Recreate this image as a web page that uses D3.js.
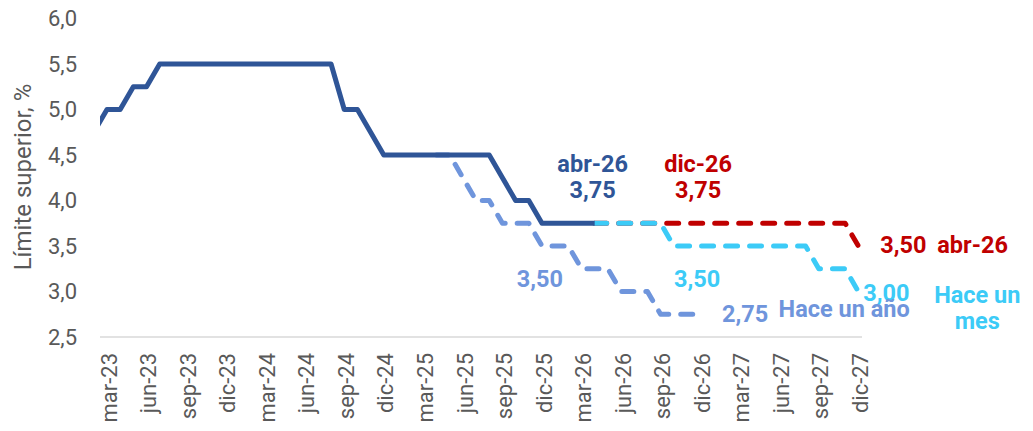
<!DOCTYPE html>
<html>
<head>
<meta charset="utf-8">
<script src="https://cdn.jsdelivr.net/npm/d3@7"></script>
<style>
  body { margin: 0; background: #fff; }
  text { font-family: Roboto, "Noto Sans", sans-serif; }
</style>
</head>
<body>
<div id="chart"></div>
<script>
const WIDTH = 1033;
const HEIGHT = 431;

// month categories, ene-23 .. dic-27
const monthNames = ["ene","feb","mar","abr","may","jun","jul","ago","sep","oct","nov","dic"];
const years = ["23","24","25","26","27"];
const months = years.flatMap(yr => monthNames.map(m => `${m}-${yr}`));

// tick labels shown on the x axis
const xTickLabels = ["mar-23","jun-23","sep-23","dic-23","mar-24","jun-24","sep-24","dic-24",
  "mar-25","jun-25","sep-25","dic-25","mar-26","jun-26","sep-26","dic-26",
  "mar-27","jun-27","sep-27","dic-27"];
const yTicks = [2.5, 3.0, 3.5, 4.0, 4.5, 5.0, 5.5, 6.0];

// actual upper limit, feb-23 .. abr-26
const actualStart = "feb-23";
const actualValues = [4.75, 5.0, 5.0, 5.25, 5.25, 5.5, 5.5, 5.5, 5.5, 5.5, 5.5,
  5.5, 5.5, 5.5, 5.5, 5.5, 5.5, 5.5, 5.5, 5.0, 5.0, 4.75, 4.5,
  4.5, 4.5, 4.5, 4.5, 4.5, 4.5, 4.5, 4.5, 4.25, 4.0, 4.0, 3.75,
  3.75, 3.75, 3.75, 3.75];

// "Hace un año" path, abr-25 .. dic-26
const yearAgoStart = "abr-25";
const yearAgoValues = [4.5, 4.5, 4.25, 4.0, 4.0, 3.75, 3.75, 3.75, 3.5,
  3.5, 3.5, 3.25, 3.25, 3.25, 3.0, 3.0, 3.0, 2.75, 2.75, 2.75, 2.75];

// "abr-26" path, abr-26 .. dic-27
const currentStart = "abr-26";
const currentValues = [3.75, 3.75, 3.75, 3.75, 3.75, 3.75, 3.75, 3.75, 3.75,
  3.75, 3.75, 3.75, 3.75, 3.75, 3.75, 3.75, 3.75, 3.75, 3.75, 3.75, 3.5];

// "Hace un mes" path, abr-26 .. dic-27
const monthAgoStart = "abr-26";
const monthAgoValues = [3.75, 3.75, 3.75, 3.75, 3.75, 3.75, 3.5, 3.5, 3.5,
  3.5, 3.5, 3.5, 3.5, 3.5, 3.5, 3.5, 3.5, 3.25, 3.25, 3.25, 3.0];

const toPoints = (start, vals) => {
  const i0 = months.indexOf(start);
  return vals.map((v, i) => ({ i: i0 + i, v }));
};

const svg = d3.select("#chart").append("svg")
  .attr("width", WIDTH)
  .attr("height", HEIGHT);

const x = d3.scaleLinear().domain([1.47, 59.28]).range([100, 862]);
const y = d3.scaleLinear().domain([2.5, 6.0]).range([337, 18.5]);

const fmt = v => d3.format(".1f")(v).replace(".", ",");

// baseline
svg.append("line")
  .attr("x1", x.range()[0]).attr("x2", x.range()[1])
  .attr("y1", y(2.5)).attr("y2", y(2.5))
  .attr("stroke", "#d9d9d9").attr("stroke-width", 1.5);

// y axis
const yAxis = svg.append("g")
  .attr("transform", `translate(${x.range()[0]},0)`)
  .call(d3.axisLeft(y).tickValues(yTicks).tickFormat(fmt).tickSize(0).tickPadding(23));
yAxis.select(".domain").remove();
yAxis.selectAll("text")
  .style("font-size", "22px")
  .style("fill", "#595959");

// x axis labels
svg.append("g").selectAll("text")
  .data(xTickLabels)
  .enter()
  .append("text")
  .attr("transform", d => `translate(${x(months.indexOf(d)) + 2},353) rotate(-90)`)
  .attr("dy", "0.35em")
  .attr("text-anchor", "end")
  .style("font-size", "22px")
  .style("fill", "#595959")
  .text(d => d);

// y axis title
svg.append("text")
  .attr("transform", "translate(31,177) rotate(-90)")
  .attr("text-anchor", "middle")
  .style("font-size", "24px")
  .style("fill", "#595959")
  .text("Límite superior, %");

svg.append("clipPath").attr("id", "plot-clip")
  .append("rect")
  .attr("x", x.range()[0]).attr("y", 0)
  .attr("width", x.range()[1] - x.range()[0] + 10).attr("height", HEIGHT);

const line = d3.line().x(d => x(d.i)).y(d => y(d.v));
const plot = svg.append("g").attr("clip-path", "url(#plot-clip)");

const series = [
  { pts: toPoints(yearAgoStart, yearAgoValues), color: "#6f95dc", dash: "12,12" },
  { pts: toPoints(currentStart, currentValues), color: "#c00000", dash: "12,12" },
  { pts: toPoints(monthAgoStart, monthAgoValues), color: "#3ccbf7", dash: "12,12" },
  { pts: toPoints(actualStart, actualValues), color: "#2f5597", dash: null }
];

series.forEach(s => {
  plot.append("path")
    .datum(s.pts)
    .attr("d", line)
    .attr("fill", "none")
    .attr("stroke", s.color)
    .attr("stroke-width", 5)
    .attr("stroke-linejoin", "round")
    .attr("stroke-linecap", s.dash ? "round" : "butt")
    .attr("stroke-dasharray", s.dash);
});

// annotations
function label(txt, px, py, color, anchor) {
  svg.append("text")
    .attr("x", px).attr("y", py)
    .attr("text-anchor", anchor || "middle")
    .style("font-size", "23.5px")
    .style("font-weight", "700")
    .style("fill", color)
    .text(txt);
}
const mi = m => months.indexOf(m);

label("abr-26", x(mi("abr-26")) - 2, y(3.75) - 51, "#2f5597");
label("3,75", x(mi("abr-26")) - 2, y(3.75) - 25, "#2f5597");
label("dic-26", x(mi("dic-26")) - 2, y(3.75) - 51, "#c00000");
label("3,75", x(mi("dic-26")) - 2, y(3.75) - 25, "#c00000");
label("3,50", x(mi("dic-27")) + 22, y(3.5) + 7, "#c00000", "start");
label("abr-26", x(mi("dic-27")) + 79, y(3.5) + 7, "#c00000", "start");
label("3,50", x(mi("dic-25")) - 2, y(3.5) + 41, "#6f95dc");
label("3,50", x(mi("dic-26")) - 3, y(3.5) + 41, "#3ccbf7");
label("3,00", x(mi("dic-27")) + 5, y(3.0) + 9, "#3ccbf7", "start");
label("Hace un", x(mi("dic-27")) + 119, y(3.0) + 11, "#3ccbf7");
label("mes", x(mi("dic-27")) + 119, y(3.0) + 37, "#3ccbf7");
label("2,75", x(mi("dic-26")) + 45, y(2.75) + 8, "#6f95dc");
label("Hace un año", x(mi("dic-26")) + 144, y(2.75) + 3, "#6f95dc");
</script>
</body>
</html>
